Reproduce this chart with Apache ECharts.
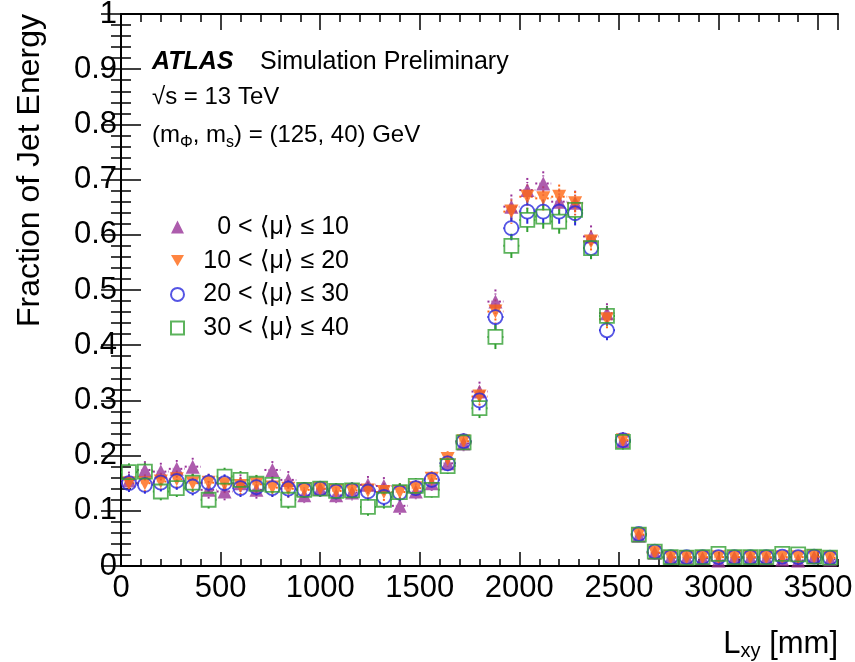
<!DOCTYPE html>
<html>
<head>
<meta charset="utf-8">
<script src="https://cdn.jsdelivr.net/npm/echarts@6/dist/echarts.min.js"></script>
<style>
  html, body { margin: 0; padding: 0; background: #fff; }
  #chart { width: 855px; height: 662px; }
</style>
</head>
<body>
<div id="chart"></div>
<script>
// bin centres in mm (80 mm wide bins from 0 to 3600)
const binCenters = [
  40, 120, 200, 280, 360, 440, 520, 600, 680, 760,
  840, 920, 1000, 1080, 1160, 1240, 1320, 1400, 1480, 1560,
  1640, 1720, 1800, 1880, 1960, 2040, 2120, 2200, 2280, 2360,
  2440, 2520, 2600, 2680, 2760, 2840, 2920, 3000, 3080, 3160,
  3240, 3320, 3400, 3480, 3560
];

// fraction of jet energy per pile-up range
const mu0to10 = [
  0.155, 0.174, 0.171, 0.176, 0.180, 0.138, 0.135, 0.150, 0.138, 0.174,
  0.156, 0.128, 0.140, 0.128, 0.133, 0.147, 0.145, 0.109, 0.135, 0.150,
  0.186, 0.222, 0.316, 0.479, 0.651, 0.681, 0.693, 0.660, 0.658, 0.597,
  0.458, 0.226, 0.055, 0.024, 0.015, 0.015, 0.014, 0.010, 0.015, 0.015,
  0.014, 0.012, 0.010, 0.016, 0.012
];
const mu10to20 = [
  0.150, 0.150, 0.153, 0.157, 0.150, 0.151, 0.148, 0.145, 0.148, 0.142,
  0.140, 0.138, 0.140, 0.136, 0.137, 0.137, 0.134, 0.134, 0.141, 0.158,
  0.194, 0.226, 0.307, 0.461, 0.642, 0.669, 0.666, 0.669, 0.657, 0.588,
  0.447, 0.228, 0.057, 0.024, 0.016, 0.016, 0.016, 0.016, 0.016, 0.016,
  0.016, 0.016, 0.016, 0.017, 0.015
];
const mu20to30 = [
  0.150, 0.147, 0.151, 0.154, 0.144, 0.151, 0.150, 0.141, 0.143, 0.141,
  0.140, 0.138, 0.140, 0.135, 0.137, 0.135, 0.125, 0.133, 0.141, 0.156,
  0.186, 0.226, 0.300, 0.451, 0.612, 0.642, 0.642, 0.642, 0.639, 0.576,
  0.427, 0.228, 0.058, 0.026, 0.016, 0.016, 0.016, 0.016, 0.016, 0.016,
  0.016, 0.017, 0.016, 0.017, 0.015
];
const mu30to40 = [
  0.170, 0.171, 0.135, 0.141, 0.151, 0.120, 0.162, 0.156, 0.149, 0.147,
  0.120, 0.138, 0.140, 0.136, 0.137, 0.107, 0.120, 0.134, 0.145, 0.138,
  0.181, 0.224, 0.286, 0.415, 0.580, 0.627, 0.633, 0.624, 0.645, 0.576,
  0.453, 0.225, 0.057, 0.026, 0.016, 0.015, 0.016, 0.022, 0.016, 0.016,
  0.016, 0.022, 0.021, 0.017, 0.015
];

// statistical uncertainty per bin
const statErr = [
  0.016, 0.016, 0.016, 0.016, 0.016, 0.016, 0.016, 0.016, 0.016, 0.016,
  0.016, 0.014, 0.014, 0.014, 0.014, 0.016, 0.016, 0.016, 0.014, 0.014,
  0.014, 0.014, 0.018, 0.022, 0.022, 0.022, 0.022, 0.022, 0.022, 0.020,
  0.018, 0.014, 0.008, 0.005, 0.004, 0.004, 0.004, 0.004, 0.004, 0.004,
  0.004, 0.004, 0.004, 0.004, 0.004
];

const seriesNames = [
  '0 < \u27e8\u03bc\u27e9 \u2264 10',
  '10 < \u27e8\u03bc\u27e9 \u2264 20',
  '20 < \u27e8\u03bc\u27e9 \u2264 30',
  '30 < \u27e8\u03bc\u27e9 \u2264 40'
];

const BIN_HALF = 40;
const MARK = 14;
const FONT = '"Liberation Sans", "DejaVu Sans", sans-serif';
const PURPLE = '#993399';
const ORANGE = '#ff6611';
const BLUE = '#2b2bdd';
const GREEN = '#33a033';

const chart = echarts.init(document.getElementById('chart'));

// 误差棒：横向为 bin 宽度，纵向为统计误差，标记内部不画
function errorBars(values, color, dashed, gapX, gapY) {
  return {
    type: 'custom',
    name: 'err',
    silent: true,
    data: binCenters.map((x, i) => [x, values[i], statErr[i]]),
    renderItem: (params, api) => {
      const x = api.value(0), y = api.value(1), e = api.value(2);
      const c = api.coord([x, y]);
      const left = api.coord([x - BIN_HALF, y])[0];
      const right = api.coord([x + BIN_HALF, y])[0];
      const top = api.coord([x, y + e])[1];
      const bottom = api.coord([x, y - e])[1];
      const dash = dashed ? [2, 2] : null;
      const segs = [];
      if (c[0] - left > gapX) {
        segs.push([left, c[1], c[0] - gapX, c[1]]);
        segs.push([c[0] + gapX, c[1], right, c[1]]);
      }
      if (c[1] - top > gapY) {
        segs.push([c[0], top, c[0], c[1] - gapY]);
        segs.push([c[0], c[1] + gapY, c[0], bottom]);
      }
      return {
        type: 'group',
        children: segs.map(s => ({
          type: 'line',
          shape: { x1: s[0], y1: s[1], x2: s[2], y2: s[3] },
          style: { stroke: color, lineWidth: 2, lineDash: dash }
        }))
      };
    }
  };
}

function points(name, values, symbol, itemStyle) {
  return {
    type: 'scatter',
    name: name,
    symbol: symbol,
    symbolSize: MARK,
    data: binCenters.map((x, i) => [x, values[i]]),
    itemStyle: itemStyle,
    emphasis: { disabled: true }
  };
}

const axisText = { color: '#000', fontSize: 31, fontFamily: FONT };
const frameLine = { show: true, lineStyle: { color: '#000', width: 2 } };
const tickStyle = { color: '#000', width: 1.5 };

function xAx(pos, interval, tickLen, labels) {
  return {
    type: 'value', position: pos, offset: 0, min: 0, max: 3600, interval: interval,
    axisLine: labels !== null ? frameLine : { show: false },
    axisTick: { show: true, inside: true, length: tickLen, lineStyle: tickStyle },
    axisLabel: labels
      ? Object.assign({ margin: 7, showMaxLabel: false, formatter: v => String(v) }, axisText)
      : { show: false },
    splitLine: { show: false }
  };
}
function yAx(pos, labels) {
  return {
    type: 'value', position: pos, offset: 0, min: 0, max: 1, interval: 0.1,
    axisLine: frameLine,
    axisTick: { show: true, inside: true, length: 20, lineStyle: tickStyle },
    minorTick: { show: true, splitNumber: 5, length: 10, lineStyle: tickStyle },
    axisLabel: labels ? Object.assign({ margin: 4 }, axisText) : { show: false },
    splitLine: { show: false }
  };
}

const option = {
  backgroundColor: '#fff',
  animation: false,
  grid: { left: 121, right: 17, top: 14, bottom: 96, outerBoundsMode: 'none' },
  xAxis: [
    xAx('bottom', 500, 14, true),
    xAx('bottom', 100, 7, null),
    xAx('top', 500, 16, false),
    xAx('top', 100, 8, null)
  ],
  yAxis: [
    yAx('left', true),
    yAx('right', false)
  ],
  legend: {
    data: seriesNames,
    orient: 'vertical',
    left: 170,
    top: 214,
    padding: 0,
    itemGap: 7.7,
    itemWidth: 13,
    itemHeight: 13,
    selectedMode: false,
    formatter: name => '{t|' + name + '}',
    textStyle: {
      color: '#000',
      fontSize: 25,
      fontFamily: FONT,
      lineHeight: 26,
      rich: { t: { width: 160, align: 'right', fontSize: 25, fontFamily: FONT, lineHeight: 26 } }
    }
  },
  graphic: [
    { type: 'text', x: 152, y: 62,
      style: { text: 'ATLAS', font: 'italic bold 25px ' + FONT, fill: '#000', textVerticalAlign: 'middle' } },
    { type: 'text', x: 260, y: 62,
      style: { text: 'Simulation Preliminary', font: '25px ' + FONT, fill: '#000', textVerticalAlign: 'middle' } },
    { type: 'text', x: 152, y: 97,
      style: { text: '\u221as = 13 TeV', font: '24px ' + FONT, fill: '#000', textVerticalAlign: 'middle' } },
    { type: 'text', x: 152, y: 136,
      style: {
        text: '{m|(m}{s|\u03a6}{m|, m}{s|s}{m|) = (125, 40) GeV}',
        fill: '#000', textVerticalAlign: 'middle',
        rich: {
          m: { fontSize: 24, fontFamily: FONT, lineHeight: 26, verticalAlign: 'top' },
          s: { fontSize: 16, fontFamily: FONT, lineHeight: 26, verticalAlign: 'top', padding: [12, 0, 0, 0] }
        }
      } },
    { type: 'text', x: 30, y: 14, rotation: Math.PI / 2,
      style: { text: 'Fraction of Jet Energy', font: '32px ' + FONT, fill: '#000',
               textAlign: 'right', textVerticalAlign: 'middle' } },
    { type: 'text', x: 838, y: 645,
      style: {
        text: '{m|L}{s|xy}{m| [mm]}',
        fill: '#000', textAlign: 'right', textVerticalAlign: 'middle',
        rich: {
          m: { fontSize: 31, fontFamily: FONT, lineHeight: 32, verticalAlign: 'top' },
          s: { fontSize: 20, fontFamily: FONT, lineHeight: 32, verticalAlign: 'top', padding: [12, 0, 0, 0] }
        }
      } }
  ],
  series: [
    errorBars(mu0to10, PURPLE, true, MARK / 4, MARK / 2),
    points(seriesNames[0], mu0to10, 'triangle', { color: PURPLE }),
    errorBars(mu10to20, ORANGE, true, MARK / 4, MARK / 2),
    points(seriesNames[1], mu10to20, 'path://M0,0L10,0L5,8.66Z', { color: ORANGE }),
    errorBars(mu20to30, BLUE, false, MARK / 2, MARK / 2),
    points(seriesNames[2], mu20to30, 'circle',
      { color: 'rgba(255,255,255,0)', borderColor: BLUE, borderWidth: 1.8 }),
    errorBars(mu30to40, GREEN, false, MARK / 2, MARK / 2),
    points(seriesNames[3], mu30to40, 'rect',
      { color: 'rgba(255,255,255,0)', borderColor: GREEN, borderWidth: 1.8 })
  ]
};

chart.setOption(option);
</script>
</body>
</html>
